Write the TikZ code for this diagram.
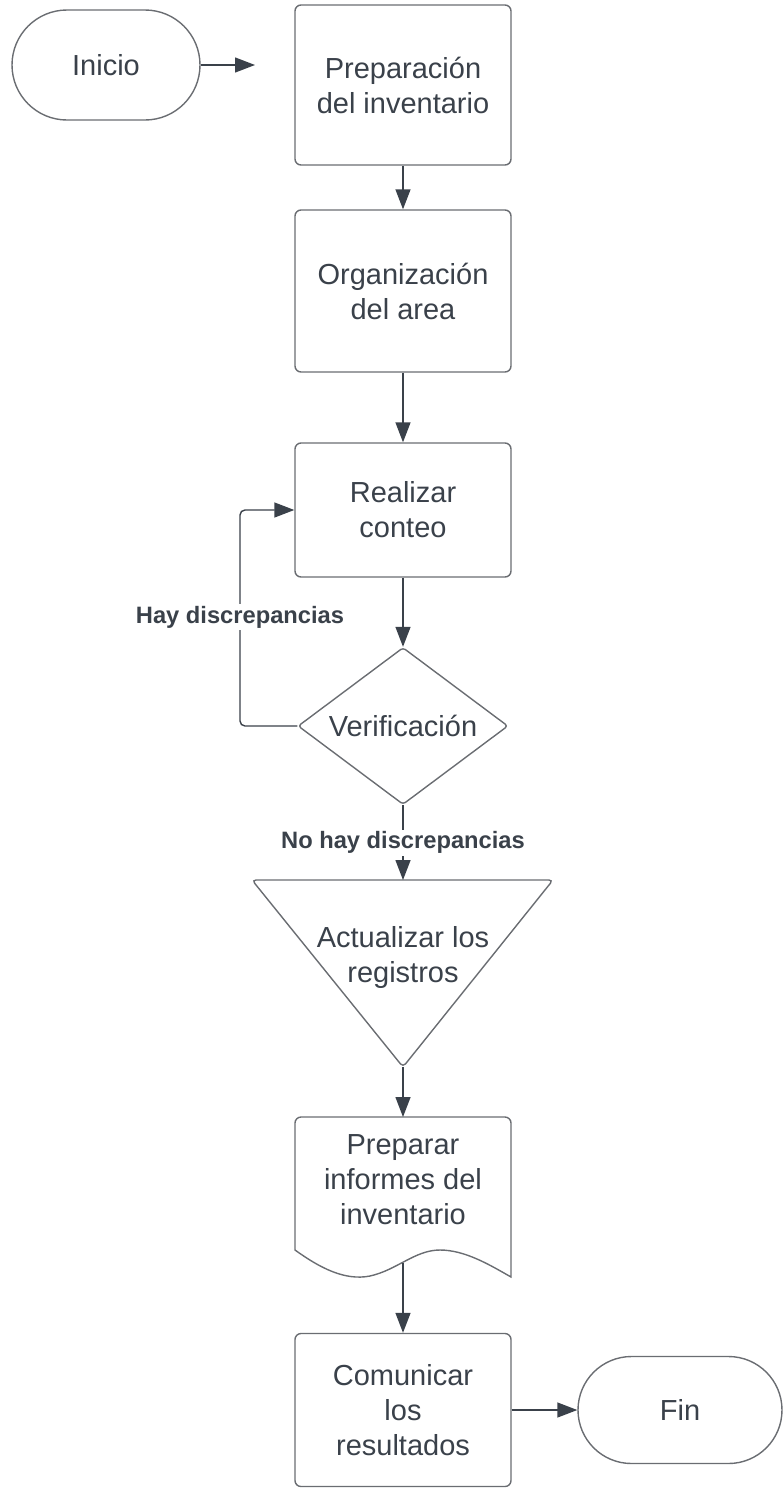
\documentclass[tikz,border=0pt]{standalone}
\usepackage{fontspec}
\setmainfont{Liberation Sans}
\usetikzlibrary{arrows.meta,shapes.geometric,shapes.misc}

\definecolor{ink}{HTML}{3A414A}
\definecolor{edge}{HTML}{6A6D72}

\begin{document}
\begin{tikzpicture}[x=1pt,y=-1pt,
  every node/.style={font=\fontsize{29}{35}\selectfont, text=ink, align=center},
  outline/.style={draw=edge, line width=1.4pt},
  box/.style={outline, rounded corners=6pt, minimum width=216pt, inner sep=0pt},
  term/.style={outline, rounded rectangle, inner sep=0pt},
  flow/.style={draw=ink, line width=1.4pt, -{Triangle[length=20pt,width=15pt]}},
  lbl/.style={font=\bfseries\fontsize{23.7}{28}\selectfont, fill=white, inner sep=2pt}
]
\useasboundingbox (0,0) rectangle (783,1491);

% start / end terminals
\node[term, minimum width=188pt, minimum height=110pt] (inicio) at (106,65) {Inicio};
\coordinate (inicioend) at (255,65);
\node[term, minimum width=204pt, minimum height=107pt] (fin) at (680,1410) {Fin};

% process steps
\node[box, minimum height=160pt] (prep) at (403,85) {Preparación\\del inventario};
\node[box, minimum height=162pt] (org) at (403,291) {Organización\\del area};
\node[box, minimum height=134pt] (conteo) at (403,510) {Realizar\\conteo};
\node[box, minimum height=153pt] (comun) at (403,1410) {Comunicar\\los\\resultados};

% decision
\node[diamond, outline, rounded corners=3pt, aspect=1.34, minimum width=210pt,
      minimum height=157pt, inner sep=0pt] (verif) at (403,726) {Verificación};
\coordinate (loop) at (240,617);

% inverted triangle (manual operation)
\coordinate (trinw) at (252,880);
\coordinate (trine) at (553,880);
\coordinate (tris) at (403,1067);
\coordinate (trin) at (403,880);
\draw[outline, rounded corners=4pt] (trinw) -- (trine) -- (tris) -- cycle;
\node (act) at (403,957) {Actualizar los\\registros};

% document shape with a wavy lower edge
\coordinate (docn) at (403,1117);
\coordinate (docs) at (403,1263);
\draw[outline] (295,1250) -- (295,1130)
  {[rounded corners=6pt] -- (295,1117) -- (511,1117) -- (511,1130)}
  -- (511,1277)
  .. controls (490,1265) and (465,1250) .. (440,1250)
  .. controls (415,1250) and (397,1270) .. (370,1276)
  .. controls (345,1281) and (320,1268) .. (295,1250) -- cycle;
\node (doc) at (403,1180) {Preparar\\informes del\\inventario};

% connectors
\draw[flow] (inicio.east) -- (inicioend);
\draw[flow] (prep) -- (org);
\draw[flow] (org) -- (conteo);
\draw[flow] (conteo) -- (verif);
\draw[flow, rounded corners=5pt] (verif.west) -- (verif.west -| loop) |- (conteo.west);
\node[lbl] (hay) at (loop) {Hay discrepancias};
\draw[flow] (verif.south) -- node[lbl] (nohay) {No hay discrepancias} (trin);
\draw[flow] (tris) -- (docn);
\draw[flow] (docs) -- (comun);
\draw[flow] (comun) -- (fin);
\end{tikzpicture}
\end{document}
